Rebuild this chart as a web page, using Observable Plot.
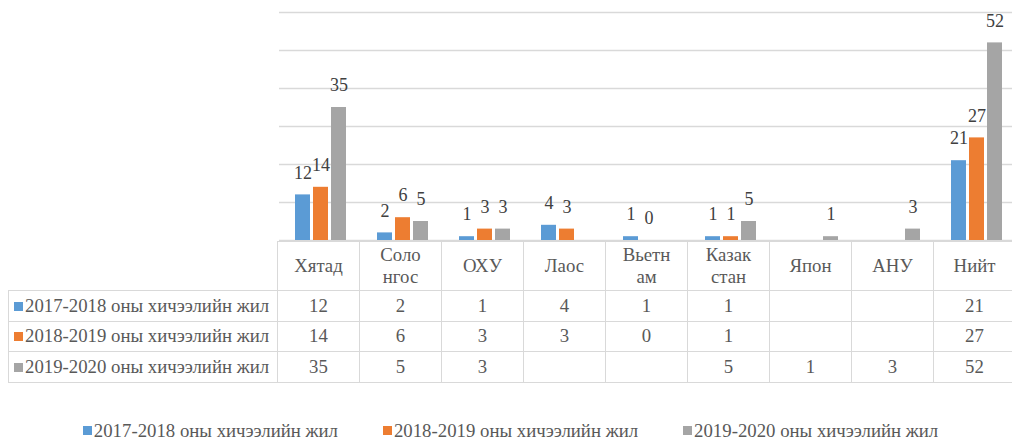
<!DOCTYPE html>
<html>
<head>
<meta charset="utf-8">
<script src="https://cdn.jsdelivr.net/npm/d3@7"></script>
<script src="https://cdn.jsdelivr.net/npm/@observablehq/plot@0.6"></script>
</head>
<body style="margin:0;padding:0;background:#fff;width:1012px;height:440px;overflow:hidden;font-family:'Liberation Serif'">
<div id="wrap" style="position:relative;width:1012px;height:440px;overflow:hidden;color:#595959;font-family:'Liberation Serif'">
  <div id="chart" style="position:absolute;left:0;top:0;width:1018px;"></div>
  <table id="tbl" style="position:absolute;left:8px;top:241px;border-collapse:collapse;table-layout:fixed;font-family:'Liberation Serif'"></table>
  <div id="legend" style="position:absolute;left:9px;top:421px;width:1003px;height:19px;line-height:18px;display:flex;justify-content:center;align-items:center;gap:45px;white-space:nowrap;font-family:'Liberation Serif'"></div>
</div>
<script>
const categories = ["Хятад", "Солонгос", "ОХУ", "Лаос", "Вьетнам", "Казакстан", "Япон", "АНУ", "Нийт"];
const headerLabels = ["Хятад", "Соло\nнгос", "ОХУ", "Лаос", "Вьетн\nам", "Казак\nстан", "Япон", "АНУ", "Нийт"];
const seriesNames = ["2017-2018 оны хичээлийн жил", "2018-2019 оны хичээлийн жил", "2019-2020 оны хичээлийн жил"];
const values1718 = [12, 2, 1, 4, 1, 1, null, null, 21];
const values1819 = [14, 6, 3, 3, 0, 1, null, null, 27];
const values1920 = [35, 5, 3, null, null, 5, 1, 3, 52];
const seriesColors = ["#5B9BD5", "#ED7D31", "#A5A5A5"];
const gridTicks = [0, 10, 20, 30, 40, 50, 60];

const FONT = "Liberation Serif";
const TEXT_SIZE = "18.8px";
const seriesValues = [values1718, values1819, values1920];
const data = [];
categories.forEach((c, i) => {
  seriesNames.forEach((s, j) => {
    const v = seriesValues[j][i];
    if (v != null) data.push({category: c, series: s, value: v});
  });
});

const chart = Plot.plot({
  width: 1018,
  height: 241,
  marginLeft: 277,
  marginRight: 0,
  marginTop: 12,
  marginBottom: 1,
  style: {background: "transparent", overflow: "visible", maxWidth: "none"},
  fx: {domain: categories, padding: 0, axis: null},
  x: {domain: seriesNames, paddingInner: 0.18, paddingOuter: 0.84, axis: null},
  y: {domain: [0, 60], axis: null},
  color: {domain: seriesNames, range: seriesColors},
  marks: [
    Plot.ruleY(gridTicks, {stroke: "#d9d9d9", strokeWidth: 1.5}),
    Plot.barY(data, {fx: "category", x: "series", y: "value", fill: "series"}),
    Plot.text(data, {fx: "category", x: "series", y: "value", text: d => String(d.value), dy: -22,
      fill: "#404040", fontSize: 18, fontFamily: FONT})
  ]
});
chart.setAttribute("font-family", FONT);
chart.style.maxWidth = "none";
document.getElementById("chart").appendChild(chart);

function styleCell(td) {
  td.style.fontFamily = FONT;
  td.style.fontSize = TEXT_SIZE;
  td.style.border = "1.5px solid #d9d9d9";
  td.style.textAlign = "center";
  td.style.padding = "0";
  td.style.lineHeight = "22px";
  td.style.color = "#595959";
}
function keySquare(color) {
  const k = document.createElement("span");
  k.style.display = "inline-block";
  k.style.width = "9px";
  k.style.height = "9px";
  k.style.marginRight = "2px";
  k.style.verticalAlign = "1px";
  k.style.background = color;
  return k;
}

// Data table aligned with the fx scale
const fx = chart.scale("fx");
const colW = fx.step;
const tbl = document.getElementById("tbl");
const colgroup = document.createElement("colgroup");
const c0 = document.createElement("col");
c0.style.width = (fx.range[0] - 8) + "px";
colgroup.appendChild(c0);
categories.forEach(() => {
  const c = document.createElement("col");
  c.style.width = colW + "px";
  colgroup.appendChild(c);
});
tbl.appendChild(colgroup);
tbl.style.width = (fx.range[0] - 8 + colW * categories.length) + "px";

const hr = document.createElement("tr");
hr.style.height = "49px";
const blank = document.createElement("td");
styleCell(blank);
blank.style.borderTop = "none";
blank.style.borderLeft = "none";
hr.appendChild(blank);
headerLabels.forEach(h => {
  const td = document.createElement("td");
  styleCell(td);
  h.split("\n").forEach((line, k) => {
    if (k > 0) td.appendChild(document.createElement("br"));
    td.appendChild(document.createTextNode(line));
  });
  hr.appendChild(td);
});
tbl.appendChild(hr);

seriesNames.forEach((s, j) => {
  const tr = document.createElement("tr");
  tr.style.height = "30.5px";
  const lab = document.createElement("td");
  styleCell(lab);
  lab.style.textAlign = "left";
  lab.style.paddingLeft = "5px";
  lab.style.whiteSpace = "nowrap";
  lab.appendChild(keySquare(seriesColors[j]));
  lab.appendChild(document.createTextNode(s));
  tr.appendChild(lab);
  seriesValues[j].forEach(v => {
    const td = document.createElement("td");
    styleCell(td);
    td.textContent = v == null ? "" : String(v);
    tr.appendChild(td);
  });
  tbl.appendChild(tr);
});

// Legend
const legend = document.getElementById("legend");
seriesNames.forEach((s, j) => {
  const it = document.createElement("span");
  it.style.fontFamily = FONT;
  it.style.fontSize = TEXT_SIZE;
  it.style.lineHeight = "18px";
  it.style.color = "#595959";
  it.style.display = "inline-flex";
  it.style.alignItems = "center";
  it.appendChild(keySquare(seriesColors[j]));
  it.appendChild(document.createTextNode(s));
  legend.appendChild(it);
});
</script>
</body>
</html>
